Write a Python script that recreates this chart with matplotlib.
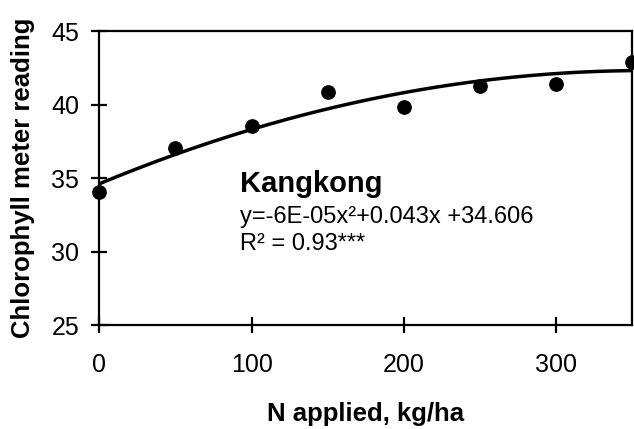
import numpy as np
import matplotlib.pyplot as plt

plt.rcParams['font.family'] = ['Liberation Sans', 'DejaVu Sans']

# N rates (kg/ha) and chlorophyll meter readings
n_rate = [0, 50, 100, 150, 200, 250, 300, 350]
spad = [34.05, 37.05, 38.55, 40.85, 39.85, 41.25, 41.4, 42.9]

# quadratic fit coefficients
a2, a1, a0 = -6e-05, 0.043, 34.606

fig, ax = plt.subplots(figsize=(6.34, 4.29), dpi=100)
fig.subplots_adjust(left=0.1566, right=0.9973, top=0.9277, bottom=0.2424)

xs = np.linspace(0, 350, 200)
ax.plot(xs, a2 * xs**2 + a1 * xs + a0, color='black', lw=2.5, zorder=2)
ax.scatter(n_rate, spad, s=92, color='black', zorder=3, clip_on=False)

ax.set_xlim(0, 350)
ax.set_ylim(25, 45)
ax.set_xticks([0, 100, 200, 300])
ax.set_yticks([25, 30, 35, 40, 45])
ax.tick_params(direction='inout', length=12, width=1.6, labelsize=18, pad=8.4)
ax.tick_params(axis='x', pad=14)
for s in ax.spines.values():
    s.set_linewidth(1.6)

ax.set_xlabel('N applied, kg/ha', fontsize=18.5, fontweight='bold', labelpad=18)
ax.set_ylabel('Chlorophyll meter reading', fontsize=18.5, fontweight='bold', labelpad=12)

ax.text(92.3, 34.05, 'Kangkong', fontsize=21, fontweight='bold', va='baseline')
ax.text(92.3, 31.95, 'y=-6E-05x²+0.043x +34.606', fontsize=17, va='baseline')
ax.text(92.3, 30.1, 'R² = 0.93***', fontsize=17, va='baseline')

fig.savefig('out.png', dpi=100)
